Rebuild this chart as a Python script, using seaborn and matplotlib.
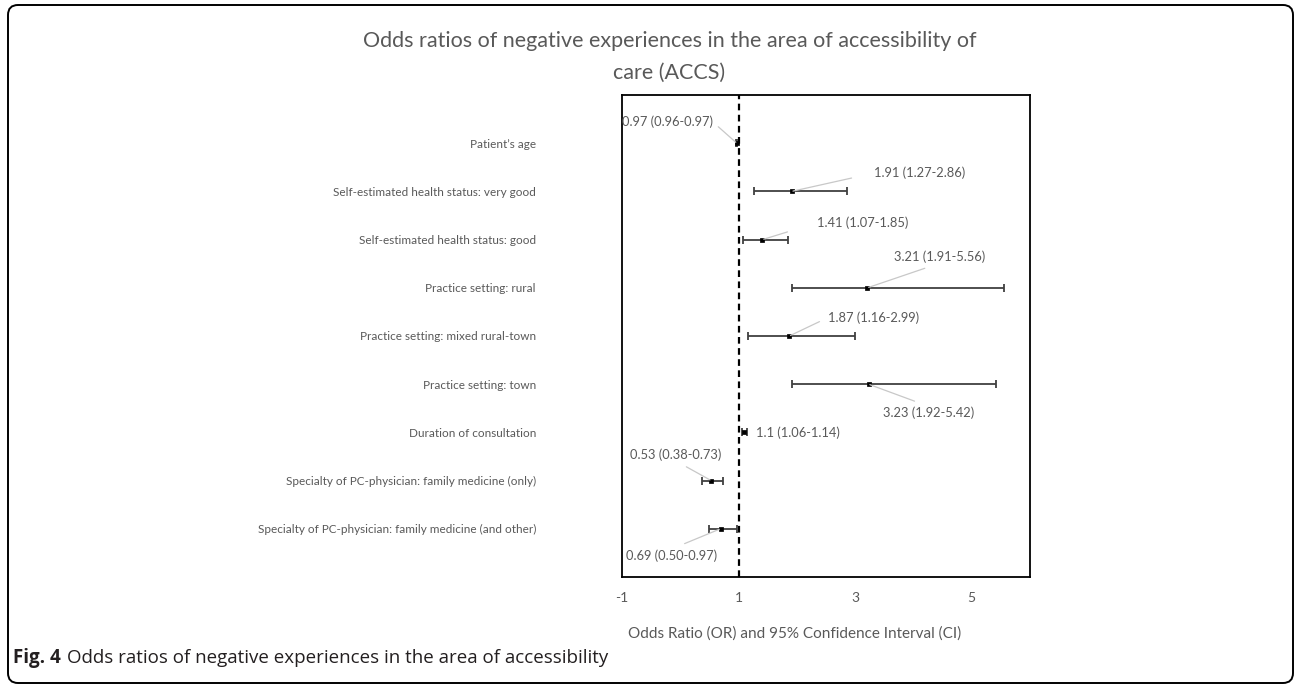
import matplotlib
matplotlib.use("Agg")
import matplotlib.pyplot as plt
import numpy as np
import pandas as pd
import seaborn as sns
from matplotlib.patches import FancyBboxPatch

FACTORS = [
    "Patient\u2019s age",
    "Self-estimated health status: very good",
    "Self-estimated health status: good",
    "Practice setting: rural",
    "Practice setting: mixed rural-town",
    "Practice setting: town",
    "Duration of consultation",
    "Specialty of PC-physician: family medicine (only)",
    "Specialty of PC-physician: family medicine (and other)",
]
ODDS = [0.97, 1.91, 1.41, 3.21, 1.87, 3.23, 1.10, 0.53, 0.69]
CI_LOW = [0.96, 1.27, 1.07, 1.91, 1.16, 1.92, 1.06, 0.38, 0.50]
CI_HIGH = [0.97, 2.86, 1.85, 5.56, 2.99, 5.42, 1.14, 0.73, 0.97]
VALUE_LABELS = [
    "0.97 (0.96-0.97)",
    "1.91 (1.27-2.86)",
    "1.41 (1.07-1.85)",
    "3.21 (1.91-5.56)",
    "1.87 (1.16-2.99)",
    "3.23 (1.92-5.42)",
    "1.1 (1.06-1.14)",
    "0.53 (0.38-0.73)",
    "0.69 (0.50-0.97)",
]
X_TICKS = [-1, 1, 3, 5]

# label anchor (data coords), alignment, leader start on text box, leader gap
LABEL_POS = [
    (0.56, -0.44, "right", "center", (1.0, 0.5), 2),
    (3.32, 0.62, "left", "center", (0.0, 0.5), 14),
    (2.35, 1.65, "left", "center", (0.0, 0.5), 20),
    (4.45, 2.36, "center", "center", (0.5, 0.0), 4),
    (2.53, 3.62, "left", "center", (0.0, 0.5), 4),
    (4.26, 5.59, "center", "center", (0.5, 1.0), 4),
    (1.30, 6.00, "left", "center", None, 0),
    (-0.08, 6.46, "center", "center", (0.5, 0.0), 4),
    (-0.15, 8.55, "center", "center", (0.5, 1.0), 4),
]

TEXT_GREY = "#595959"
BAR_GREY = "#404040"
LABEL_SIZE = 9.3

sns.set_theme(style="white")
plt.rcParams["font.family"] = ["Lato", "DejaVu Sans"]

df = pd.DataFrame({
    "factor": FACTORS,
    "pos": np.arange(len(FACTORS)),
    "odds": ODDS,
    "lo": CI_LOW,
    "hi": CI_HIGH,
})

fig = plt.figure(figsize=(12.95, 6.85), dpi=100)
ax = fig.add_axes([0.4803, 0.1577, 0.3151, 0.7036])

ax.errorbar(
    df["odds"], df["pos"],
    xerr=[df["odds"] - df["lo"], df["hi"] - df["odds"]],
    fmt="none", ecolor=BAR_GREY, elinewidth=1.3, capsize=3, capthick=1.3,
    zorder=2,
)
sns.scatterplot(
    data=df, x="odds", y="pos", marker="s", s=12, color="black",
    edgecolor="black", linewidth=0.5, ax=ax, zorder=3, legend=False,
)
ax.axvline(1, color="black", lw=1.6, ls=(0, (3, 2)), zorder=1)

for (tx, ty, ha, va, rel, gap), txt, x, y in zip(LABEL_POS, VALUE_LABELS, ODDS, df["pos"]):
    if rel is None:
        ax.text(tx, ty, txt, ha=ha, va=va, fontsize=LABEL_SIZE, color=TEXT_GREY)
        continue
    ann = ax.annotate(
        txt, xy=(x, y), xytext=(tx, ty), ha=ha, va=va, fontsize=LABEL_SIZE,
        color=TEXT_GREY,
        arrowprops=dict(arrowstyle="-", color="#c8c8c8", lw=0.9,
                        relpos=rel, shrinkA=gap, shrinkB=1),
    )
    ann.set_clip_on(True)

ax.set_xlim(-1, 6)
ax.set_ylim(9, -1)
ax.set_xticks(X_TICKS)
ax.set_xticklabels([str(t) for t in X_TICKS])
ax.set_yticks(df["pos"])
ax.set_yticklabels(FACTORS)
ax.tick_params(axis="y", length=0, pad=62, labelsize=8.5, labelcolor=TEXT_GREY)
ax.tick_params(axis="x", length=0, pad=11, labelsize=10, labelcolor=TEXT_GREY)
for lab in ax.get_yticklabels():
    lab.set_horizontalalignment("right")
ax.set_xlabel("Odds Ratio (OR) and 95% Confidence Interval (CI)",
              fontsize=11, color=TEXT_GREY)
ax.xaxis.label.set_va("center")
ax.xaxis.set_label_coords(0.424, -0.118)
ax.set_ylabel("")
for sp in ax.spines.values():
    sp.set_visible(True)
    sp.set_color("black")
    sp.set_linewidth(1.3)

fig.text(0.517, 0.917,
         "Odds ratios of negative experiences in the area of accessibility of\ncare (ACCS)",
         ha="center", va="center", fontsize=15.5, color=TEXT_GREY, linespacing=1.7)

# caption below the chart
fig.canvas.draw()
renderer = fig.canvas.get_renderer()
cap_y = 1 - 658 / 685
bold = fig.text(13 / 1295, cap_y, "Fig. 4", ha="left", va="center",
                fontsize=13.5, fontweight="bold", color="#231f20",
                family=["Open Sans", "DejaVu Sans"])
bb = bold.get_window_extent(renderer=renderer)
fig.text((bb.x1 + 6) / fig.bbox.width, cap_y,
         "Odds ratios of negative experiences in the area of accessibility",
         ha="left", va="center", fontsize=13.5, color="#231f20",
         family=["Open Sans", "DejaVu Sans"])

frame = FancyBboxPatch((0.08, 0.02), 12.85, 6.78,
                       boxstyle="round,pad=0,rounding_size=0.1",
                       transform=fig.dpi_scale_trans, fill=False,
                       edgecolor="black", lw=1.4)
fig.patches.append(frame)

fig.savefig("out.png", dpi=100)
